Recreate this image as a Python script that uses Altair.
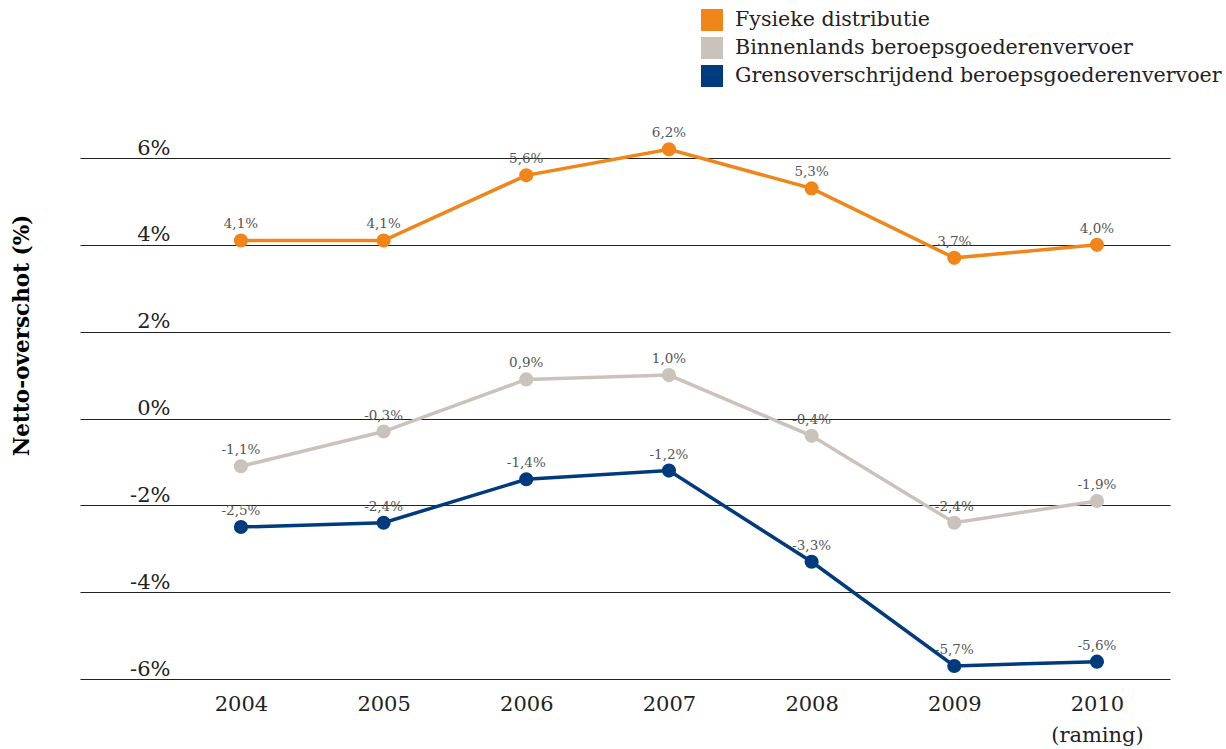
import altair as alt
import pandas as pd

years = [2004, 2005, 2006, 2007, 2008, 2009, 2010]
series_names = [
    "Fysieke distributie",
    "Binnenlands beroepsgoederenvervoer",
    "Grensoverschrijdend beroepsgoederenvervoer",
]
fysieke = [4.1, 4.1, 5.6, 6.2, 5.3, 3.7, 4.0]
binnenlands = [-1.1, -0.3, 0.9, 1.0, -0.4, -2.4, -1.9]
grens = [-2.5, -2.4, -1.4, -1.2, -3.3, -5.7, -5.6]
colors = ["#F0861A", "#C9C3BB", "#003B7D"]
y_ticks = [-6, -4, -2, 0, 2, 4, 6]

rows = []
for name, vals in zip(series_names, [fysieke, binnenlands, grens]):
    for yr, v in zip(years, vals):
        rows.append({"jaar": yr, "waarde": v, "reeks": name,
                     "label": f"{v:.1f}".replace(".", ",") + "%"})
df = pd.DataFrame(rows)

FONT = "DejaVu Serif"

x = alt.X("jaar:Q",
          scale=alt.Scale(domain=[2002.872, 2010.512], nice=False, zero=False),
          axis=alt.Axis(values=years, title=None, grid=False, ticks=False, domain=False,
                        labelFont=FONT, labelFontSize=21, labelColor="#222",
                        labelBaseline="top", labelPadding=14, labelLineHeight=31,
                        labelExpr="datum.value == 2010 ? ['2010', '(raming)'] : '' + datum.value",
                        labelFlush=False, labelOverlap=False))
y = alt.Y("waarde:Q",
          scale=alt.Scale(domain=[-6, 6], nice=False),
          axis=alt.Axis(values=y_ticks, title="Netto-overschot (%)", grid=True,
                        gridColor="#222", gridWidth=1, ticks=False, domain=False,
                        labelFont=FONT, labelFontSize=21, labelColor="#222",
                        labelAlign="right", labelBaseline="alphabetic", labelPadding=-90,
                        labelOffset=-4, labelExpr="datum.value + '%'",
                        titleFont=FONT, titleFontSize=21.5, titleFontWeight="bold",
                        titleColor="#000", titleAngle=-90, titleX=-58, titleY=177,
                        titleAlign="center", titleBaseline="middle"))
color = alt.Color("reeks:N",
                  scale=alt.Scale(domain=series_names, range=colors),
                  legend=alt.Legend(title=None, orient="none", legendX=621, legendY=-149,
                                    symbolType="square", symbolSize=484, symbolStrokeWidth=0,
                                    symbolOpacity=1,
                                    labelFont=FONT, labelFontSize=20.6, labelColor="#222",
                                    labelOffset=12, rowPadding=6, padding=0,
                                    labelLimit=600))

base = alt.Chart(df)
lines = base.mark_line(strokeWidth=3.5).encode(x=x, y=y, color=color)
points = base.mark_circle(size=200, opacity=1).encode(x=x, y=y, color=alt.Color("reeks:N", scale=alt.Scale(domain=series_names, range=colors), legend=None))
texts = base.mark_text(font=FONT, fontSize=13.5, color="#555", baseline="bottom", dy=-9).encode(
    x=x, y=y, text="label:N")

chart = alt.layer(lines, points, texts).properties(
    width=1090, height=521,
    autosize=alt.AutoSizeParams(type="none"),
    padding={"left": 80, "top": 158, "right": 56, "bottom": 70},
    background="white",
).configure_view(stroke=None)

chart.save("out.html", embed_options={"renderer": "svg", "actions": False})
